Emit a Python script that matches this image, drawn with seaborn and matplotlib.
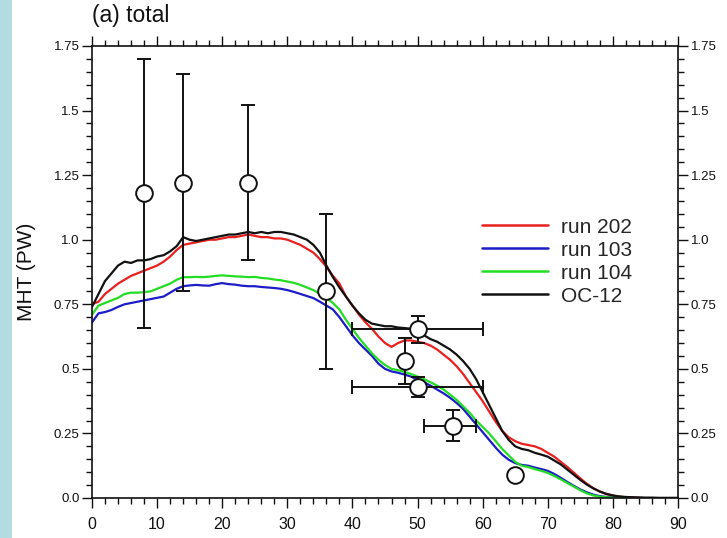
import numpy as np
import pandas as pd
import matplotlib
matplotlib.use("Agg")
import matplotlib.pyplot as plt
from matplotlib.patches import Rectangle
from matplotlib.ticker import MultipleLocator, FixedLocator, FixedFormatter
import seaborn as sns

# ---------------- data ----------------
lat = list(range(0, 91))

oc12 = [0.74, 0.79, 0.84, 0.87, 0.90, 0.915, 0.91, 0.92, 0.92, 0.925,
        0.935, 0.94, 0.955, 0.975, 1.01, 1.0, 0.995, 1.0, 1.005, 1.01,
        1.015, 1.02, 1.02, 1.025, 1.03, 1.025, 1.03, 1.025, 1.03, 1.03,
        1.025, 1.02, 1.01, 1.0, 0.98, 0.95, 0.90, 0.855, 0.815, 0.78,
        0.745, 0.715, 0.69, 0.675, 0.67, 0.665, 0.665, 0.66, 0.658, 0.655,
        0.645, 0.63, 0.615, 0.605, 0.59, 0.575, 0.555, 0.53, 0.50, 0.46,
        0.41, 0.36, 0.31, 0.26, 0.225, 0.20, 0.19, 0.185, 0.175, 0.168,
        0.16, 0.145, 0.13, 0.11, 0.09, 0.07, 0.052, 0.037, 0.025, 0.016,
        0.010, 0.006, 0.004, 0.003, 0.002, 0.001, 0.001, 0.0, 0.0, 0.0, 0.0]

run202 = [0.75, 0.76, 0.79, 0.81, 0.83, 0.845, 0.86, 0.87, 0.88, 0.89,
          0.90, 0.915, 0.935, 0.96, 0.98, 0.985, 0.99, 0.995, 1.0, 1.0,
          1.005, 1.01, 1.01, 1.015, 1.02, 1.015, 1.01, 1.01, 1.005, 1.005,
          1.0, 0.99, 0.98, 0.965, 0.95, 0.925, 0.895, 0.86, 0.83, 0.78,
          0.745, 0.71, 0.68, 0.655, 0.625, 0.60, 0.585, 0.60, 0.61, 0.61,
          0.605, 0.60, 0.59, 0.575, 0.555, 0.535, 0.51, 0.48, 0.445, 0.41,
          0.375, 0.335, 0.295, 0.26, 0.235, 0.22, 0.21, 0.205, 0.20, 0.19,
          0.175, 0.16, 0.14, 0.12, 0.098, 0.076, 0.055, 0.038, 0.025, 0.015,
          0.009, 0.005, 0.003, 0.002, 0.001, 0.0, 0.0, 0.0, 0.0, 0.0, 0.0]

run103 = [0.68, 0.715, 0.72, 0.728, 0.74, 0.75, 0.755, 0.76, 0.765, 0.77,
          0.775, 0.78, 0.795, 0.81, 0.82, 0.823, 0.825, 0.823, 0.822, 0.828,
          0.832, 0.828, 0.826, 0.822, 0.82, 0.82, 0.817, 0.815, 0.813, 0.81,
          0.805, 0.798, 0.79, 0.782, 0.774, 0.76, 0.745, 0.73, 0.70, 0.665,
          0.63, 0.60, 0.575, 0.55, 0.52, 0.50, 0.49, 0.485, 0.478, 0.47,
          0.458, 0.448, 0.435, 0.42, 0.405, 0.388, 0.368, 0.345, 0.315, 0.285,
          0.255, 0.225, 0.195, 0.168, 0.148, 0.135, 0.128, 0.125, 0.118, 0.112,
          0.105, 0.093, 0.078, 0.062, 0.047, 0.033, 0.022, 0.013, 0.007, 0.004,
          0.002, 0.001, 0.0, 0.0, 0.0, 0.0, 0.0, 0.0, 0.0, 0.0, 0.0]

run104 = [0.71, 0.745, 0.755, 0.765, 0.775, 0.79, 0.795, 0.795, 0.797, 0.80,
          0.81, 0.82, 0.83, 0.845, 0.855, 0.855, 0.856, 0.855, 0.857, 0.86,
          0.862, 0.86, 0.858, 0.857, 0.855, 0.856, 0.852, 0.85, 0.846, 0.843,
          0.838, 0.833, 0.825, 0.815, 0.805, 0.79, 0.775, 0.755, 0.73, 0.69,
          0.655, 0.62, 0.59, 0.56, 0.535, 0.515, 0.50, 0.495, 0.488, 0.48,
          0.47, 0.46, 0.448, 0.435, 0.42, 0.40, 0.38, 0.355, 0.33, 0.30,
          0.275, 0.25, 0.22, 0.19, 0.165, 0.14, 0.125, 0.12, 0.112, 0.105,
          0.097, 0.085, 0.072, 0.058, 0.044, 0.03, 0.018, 0.010, 0.005, 0.003,
          0.001, 0.0, 0.0, 0.0, 0.0, 0.0, 0.0, 0.0, 0.0, 0.0, 0.0]

series_names = ["run 202", "run 103", "run 104", "OC-12"]
series_colors = ["#e8201e", "#1c1cc8", "#22dd22", "#111111"]

# observations
obs_lat = [8, 14, 24, 36, 50, 48, 50, 55.5, 65]
obs_mht = [1.18, 1.22, 1.22, 0.80, 0.655, 0.53, 0.43, 0.28, 0.09]
obs_ylo = [0.66, 0.80, 0.92, 0.50, 0.60, 0.44, 0.39, 0.22, 0.09]
obs_yhi = [1.70, 1.64, 1.52, 1.10, 0.705, 0.62, 0.47, 0.34, 0.09]
obs_xlo = [8, 14, 24, 36, 40, 48, 40, 51, 65]
obs_xhi = [8, 14, 24, 36, 60, 48, 60, 59, 65]

yticks = [0.0, 0.25, 0.5, 0.75, 1.0, 1.25, 1.5, 1.75]
ytick_labels = ["0.0", "0.25", "0.5", "0.75", "1.0", "1.25", "1.5", "1.75"]
xticks = [0, 10, 20, 30, 40, 50, 60, 70, 80, 90]

# ---------------- plot ----------------
sns.set_style("ticks")
plt.rcParams["font.family"] = ["Liberation Sans", "DejaVu Sans"]

fig = plt.figure(figsize=(7.27, 5.38), dpi=100)
fig.patches.append(Rectangle((0, 0), 12 / 727, 1, transform=fig.transFigure,
                             facecolor="#b2dce0", edgecolor="none", zorder=0))
ax = fig.add_axes([92 / 727, 1 - 498 / 538, 586 / 727, 452 / 538])

df = pd.DataFrame({
    "lat": lat * 4,
    "mht": run202 + run103 + run104 + oc12,
    "series": sum([[n] * len(lat) for n in series_names], []),
})
sns.lineplot(data=df, x="lat", y="mht", hue="series", hue_order=series_names,
             palette=series_colors, linewidth=1.6, ax=ax, legend=True)

obs_lat_a = np.array(obs_lat)
obs_mht_a = np.array(obs_mht)
yerr = np.vstack([obs_mht_a - np.array(obs_ylo), np.array(obs_yhi) - obs_mht_a])
xerr = np.vstack([obs_lat_a - np.array(obs_xlo), np.array(obs_xhi) - obs_lat_a])
ax.errorbar(obs_lat_a, obs_mht_a, yerr=yerr, xerr=xerr, fmt="o", color="black",
            ecolor="#111111", elinewidth=1.4, capsize=5, capthick=1.4,
            markersize=12, markerfacecolor="white", markeredgecolor="#111111",
            markeredgewidth=1.4, zorder=5)

ax.set_xlim(0, 90)
ax.set_ylim(0, 1.75)
ax.xaxis.set_major_locator(FixedLocator(xticks))
ax.xaxis.set_minor_locator(MultipleLocator(2))
ax.yaxis.set_major_locator(FixedLocator(yticks))
ax.yaxis.set_major_formatter(FixedFormatter(ytick_labels))
ax.yaxis.set_minor_locator(MultipleLocator(0.05))
ax.tick_params(which="both", direction="out", top=True, right=True,
               labelright=True, color="#111111", width=1.0)
ax.tick_params(axis="y", which="major", length=7, labelsize=9.5, pad=2,
               labelcolor="#111111")
ax.tick_params(axis="x", which="major", length=7.5, labelsize=11.5, pad=6,
               labelcolor="#111111")
ax.tick_params(which="minor", length=4)
for s in ax.spines.values():
    s.set_linewidth(1.2)
    s.set_color("#111111")

ax.set_xlabel("")
ax.set_ylabel("MHT (PW)", fontsize=15, color="#111111")
ax.yaxis.set_label_coords((36 - 92) / 586, 0.5)

fig.text(92 / 727, 1 - 22 / 538, "(a) total", fontsize=16.5, ha="left",
         va="baseline", color="#111111")

handles, labels = ax.get_legend_handles_labels()
leg = ax.legend(handles, labels, loc="upper left", bbox_to_anchor=(0.6655, 0.62),
                frameon=False, fontsize=15, handlelength=3.17, handletextpad=0.62,
                labelspacing=0.19, borderaxespad=0, borderpad=0)
for ln in leg.get_lines():
    ln.set_linewidth(1.8)

fig.savefig("out.png", dpi=100)
